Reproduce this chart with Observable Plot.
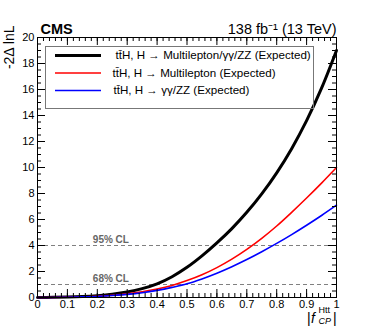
<!DOCTYPE html>
<html>
<head>
<meta charset="utf-8">
<script src="https://cdn.jsdelivr.net/npm/d3@7"></script>
<script src="https://cdn.jsdelivr.net/npm/@observablehq/plot@0.6"></script>
<style>
  html, body { margin: 0; padding: 0; background: white; }
</style>
</head>
<body>
<div id="chart"></div>
<script>
// ---- data ----
const fCP = [0, 0.05, 0.1, 0.15, 0.2, 0.25, 0.3, 0.35, 0.4, 0.45, 0.5, 0.55, 0.6, 0.65, 0.7, 0.75, 0.8, 0.85, 0.9, 0.95, 1.0];
const combined = [0, 0.01, 0.03, 0.07, 0.14, 0.25, 0.42, 0.68, 1.05, 1.6, 2.32, 3.2, 4.2, 5.3, 6.55, 7.97, 9.59, 11.45, 13.6, 16.1, 19.0];
const multilepton = [0, 0.005, 0.02, 0.05, 0.09, 0.17, 0.28, 0.44, 0.65, 0.93, 1.3, 1.75, 2.3, 2.95, 3.7, 4.55, 5.5, 6.55, 7.65, 8.8, 10.0];
const gammaZZ = [0, 0.005, 0.02, 0.045, 0.08, 0.15, 0.24, 0.37, 0.55, 0.78, 1.05, 1.43, 1.87, 2.37, 2.92, 3.52, 4.16, 4.84, 5.56, 6.31, 7.1];

const seriesNames = ["tt\u0304H, H \u2192 Multilepton/\u03b3\u03b3/ZZ (Expected)",
                     "tt\u0304H, H \u2192 Multilepton (Expected)",
                     "tt\u0304H, H \u2192 \u03b3\u03b3/ZZ (Expected)"];
const seriesValues = [combined, multilepton, gammaZZ];
const seriesColors = ["black", "#ff0000", "#0000ff"];
const seriesWidths = [3, 1.6, 1.6];

const clLevels = [4, 1];
const clLabels = ["95% CL", "68% CL"];

const xMajor = [0, 0.1, 0.2, 0.3, 0.4, 0.5, 0.6, 0.7, 0.8, 0.9, 1];
const xLabels = ["0", "0.1", "0.2", "0.3", "0.4", "0.5", "0.6", "0.7", "0.8", "0.9", "1"];
const yMajor = [0, 2, 4, 6, 8, 10, 12, 14, 16, 18, 20];
const yLabels = ["0", "2", "4", "6", "8", "10", "12", "14", "16", "18", "20"];
const xMinor = d3.range(0, 1.0001, 0.02);
const yMinor = d3.range(0, 20.001, 0.5);

// ---- layout ----
const W = 374, H = 330, mL = 37, mR = 38, mT = 37, mB = 33;
const innerW = W - mL - mR, innerH = H - mT - mB;
const xd = px => (px - mL) / innerW;           // pixel -> data (x)
const yd = py => 20 * (H - mB - py) / innerH;   // pixel -> data (y)
const MAJ = 8, MIN = 4;

const rows = seriesValues.map(vals => fCP.map((x, i) => ({x, y: vals[i]})));

const marks = [];
// CL lines
marks.push(Plot.ruleY(clLevels, {stroke: "#808080", strokeWidth: 1.2, strokeDasharray: "4,3"}));
marks.push(Plot.text(clLevels, {x: 0.185, y: d => d, text: (d, i) => clLabels[i], dy: -3,
  lineAnchor: "bottom", textAnchor: "start", fill: "#666", fontSize: 10, fontWeight: "bold"}));
// curves
rows.forEach((r, i) => marks.push(Plot.line(r, {x: "x", y: "y", curve: "catmull-rom",
  stroke: seriesColors[i], strokeWidth: seriesWidths[i]})));
// ticks (inward, all four sides)
marks.push(Plot.ruleX(xMinor, {stroke: "black", insetTop: innerH - MIN}));
marks.push(Plot.ruleX(xMajor, {stroke: "black", insetTop: innerH - MAJ}));
marks.push(Plot.ruleX(xMinor, {stroke: "black", insetBottom: innerH - MIN}));
marks.push(Plot.ruleX(xMajor, {stroke: "black", insetBottom: innerH - MAJ}));
marks.push(Plot.ruleY(yMinor, {stroke: "black", insetRight: innerW - MIN}));
marks.push(Plot.ruleY(yMajor, {stroke: "black", insetRight: innerW - MAJ}));
marks.push(Plot.ruleY(yMinor, {stroke: "black", insetLeft: innerW - MIN}));
marks.push(Plot.ruleY(yMajor, {stroke: "black", insetLeft: innerW - MAJ}));
// tick labels
marks.push(Plot.axisX(xMajor, {tickSize: 0, tickPadding: 3, fontSize: 11, label: null,
  tickFormat: (d, i) => xLabels[i]}));
marks.push(Plot.axisY(yMajor, {tickSize: 0, tickPadding: 3, fontSize: 11, label: null,
  tickFormat: (d, i) => yLabels[i]}));
// frame
marks.push(Plot.frame({stroke: "black", strokeWidth: 1}));
// legend
marks.push(Plot.frame({stroke: "#777", strokeWidth: 1, insetLeft: 8, insetRight: 23, insetTop: 9, insetBottom: (H - mB) - 108}));
const legY = [55, 72.5, 90];
const legTx = [115, 112, 113];
seriesNames.forEach((name, i) => {
  marks.push(Plot.ruleY([yd(legY[i])], {x1: xd(55), x2: xd(101), stroke: seriesColors[i], strokeWidth: seriesWidths[i]}));
  marks.push(Plot.text([name], {x: xd(legTx[i]), y: yd(legY[i]), text: d => d, textAnchor: "start",
    lineAnchor: "middle", fontSize: 11.6, fill: "black"}));
});
// header
marks.push(Plot.text(["CMS"], {frameAnchor: "top-left", dx: 3, dy: -4, lineAnchor: "bottom",
  textAnchor: "start", fontWeight: "bold", fontSize: 14.5}));
marks.push(Plot.text(["138 fb\u207b\u00b9 (13 TeV)"], {frameAnchor: "top-right", dx: 0, dy: -4, lineAnchor: "bottom",
  textAnchor: "end", fontSize: 14.5}));
// y title
marks.push(Plot.text(["-2\u0394 lnL"], {frameAnchor: "top-left", dx: -28, dy: -12, rotate: -90,
  textAnchor: "end", lineAnchor: "middle", fontSize: 14}));
// x title |f_CP^Htt|
const bx = W - mR, by = H - mB;
marks.push(Plot.text(["|"], {frameAnchor: "bottom-right", dx: 306.5 - bx, dy: 322 - by, textAnchor: "start", lineAnchor: "bottom", fontSize: 14}));
marks.push(Plot.text(["f"], {frameAnchor: "bottom-right", dx: 310.5 - bx, dy: 322 - by, textAnchor: "start", lineAnchor: "bottom", fontSize: 14, fontStyle: "italic"}));
marks.push(Plot.text(["Htt"], {frameAnchor: "bottom-right", dx: 318 - bx, dy: 312 - by, textAnchor: "start", lineAnchor: "bottom", fontSize: 9}));
marks.push(Plot.text(["CP"], {frameAnchor: "bottom-right", dx: 318 - bx, dy: 323.5 - by, textAnchor: "start", lineAnchor: "bottom", fontSize: 9, fontStyle: "italic"}));
marks.push(Plot.text(["|"], {frameAnchor: "bottom-right", dx: 332.5 - bx, dy: 322 - by, textAnchor: "start", lineAnchor: "bottom", fontSize: 14}));

const chart = Plot.plot({
  width: W, height: H,
  marginLeft: mL, marginRight: mR, marginTop: mT, marginBottom: mB,
  x: {domain: [0, 1], axis: null},
  y: {domain: [0, 20], axis: null},
  style: {fontFamily: "'Liberation Sans', Arial, Helvetica, sans-serif", background: "white", color: "black"},
  marks
});
document.getElementById("chart").appendChild(chart);
</script>
</body>
</html>
